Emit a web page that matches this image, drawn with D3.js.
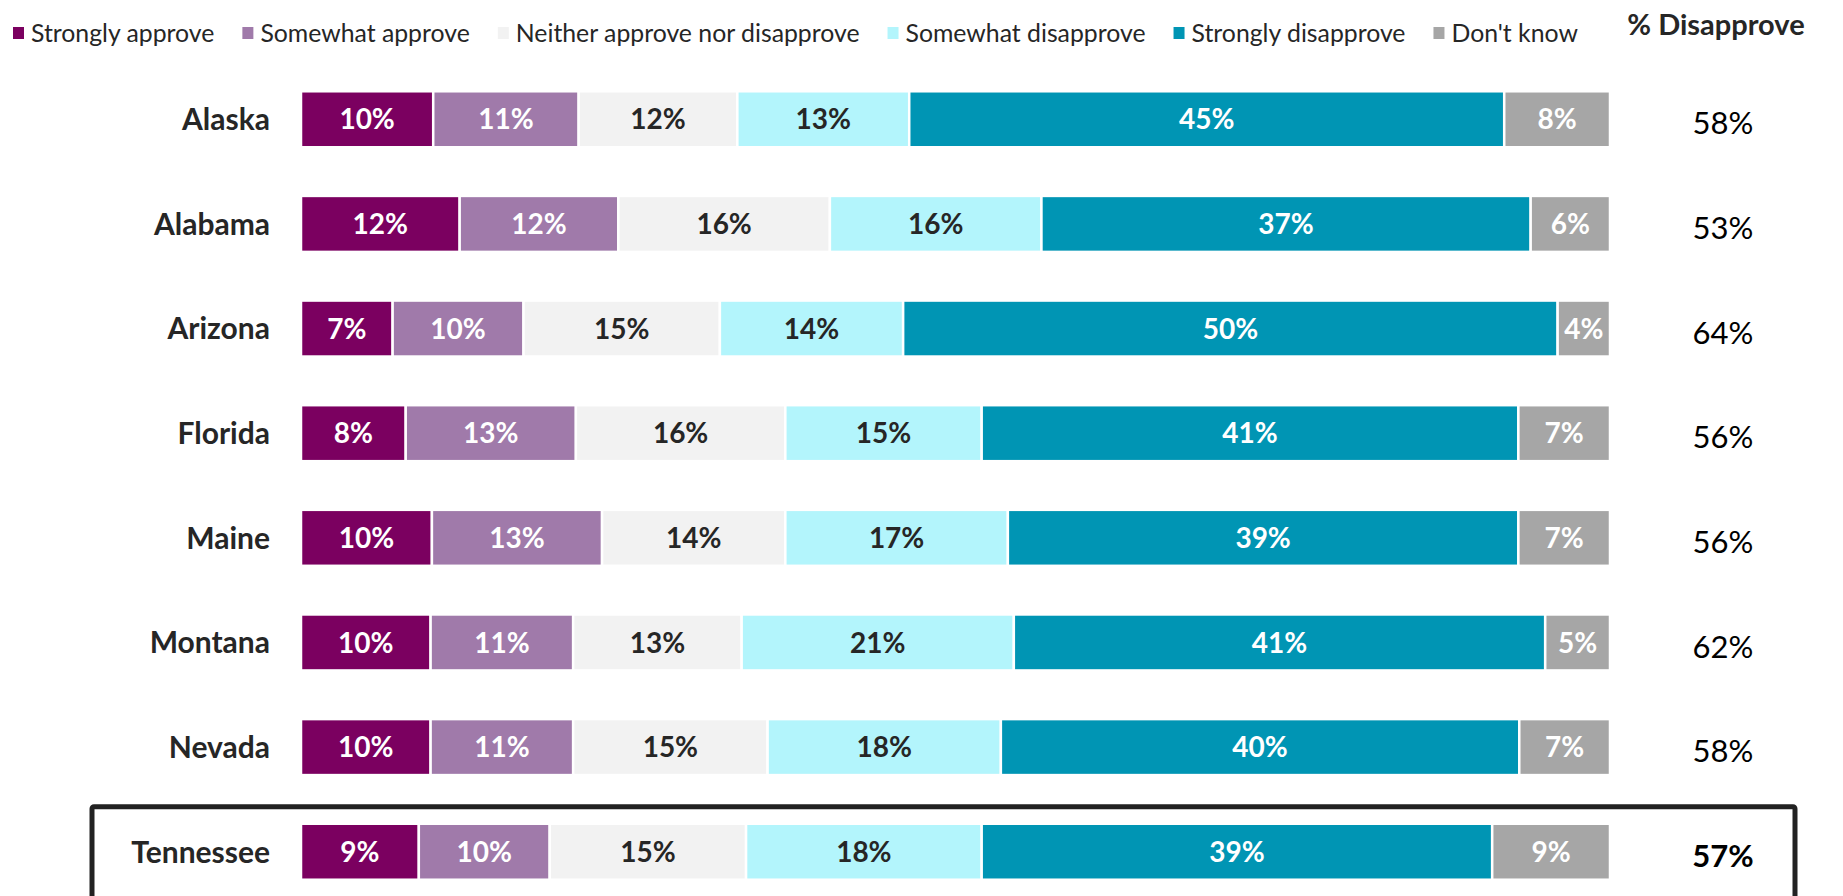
<!DOCTYPE html>
<html><head><meta charset="utf-8">
<script src="https://cdn.jsdelivr.net/npm/d3@7"></script>
<style>
html,body{margin:0;padding:0;background:#fff;}
svg{display:block;font-family:Lato, "Open Sans", sans-serif;}
</style></head><body>
<svg id="chart" width="1843" height="896"></svg>
<script>
const states = ["Alaska","Alabama","Arizona","Florida","Maine","Montana","Nevada","Tennessee"];
const categories = ["Strongly approve","Somewhat approve","Neither approve nor disapprove","Somewhat disapprove","Strongly disapprove","Don't know"];
const colors = ["#7B0060","#A07AAA","#F2F2F2","#B3F5FC","#0095B4","#A6A6A6"];
const labelColors = ["#ffffff","#ffffff","#262626","#262626","#ffffff","#ffffff"];
const stronglyApprove   = [10,12,7,8,10,10,10,9];
const somewhatApprove   = [11,12,10,13,13,11,11,10];
const neither           = [12,16,15,16,14,13,15,15];
const somewhatDisapprove= [13,16,14,15,17,21,18,18];
const stronglyDisapprove= [45,37,50,41,39,41,40,39];
const dontKnow          = [8,6,4,7,7,5,7,9];
const pctDisapprove     = [58,53,64,56,56,62,58,57];
const highlight = "Tennessee";

const series = [stronglyApprove,somewhatApprove,neither,somewhatDisapprove,stronglyDisapprove,dontKnow];
const rows = states.map((s,i)=>{
  const r = {state:s, total:0};
  categories.forEach((c,k)=>{ r[c]=series[k][i]; r.total+=series[k][i]; });
  return r;
});
// normalise each row to 100%
const normRows = rows.map(r=>{ const o={state:r.state}; categories.forEach(c=>o[c]=r[c]/r.total); return o; });
const stack = d3.stack().keys(categories)(normRows);

const svg = d3.select("#chart");
const x = d3.scaleLinear().domain([0,1]).range([301,1610]);
const y = d3.scaleBand().domain(states).range([67,904]).paddingInner(0.465).paddingOuter(0.232);

// highlight box
const hy = y(highlight);
svg.append("rect")
  .attr("x",92).attr("y",hy-17).attr("width",1703).attr("height",y.bandwidth()+60)
  .attr("fill","none").attr("stroke","#222").attr("stroke-width",5).attr("rx",2);

// bars
const g = svg.append("g");
stack.forEach((layer,k)=>{
  const lg = g.append("g");
  lg.selectAll("rect").data(layer).join("rect")
    .attr("x",d=>x(d[0])).attr("y",(d,i)=>y(states[i]))
    .attr("width",d=>x(d[1])-x(d[0])).attr("height",y.bandwidth())
    .attr("fill",colors[k]).attr("stroke","#fff").attr("stroke-width",2.5);
  lg.selectAll("text").data(layer).join("text")
    .attr("x",d=>(x(d[0])+x(d[1]))/2).attr("y",(d,i)=>y(states[i])+y.bandwidth()/2)
    .attr("dy","0.36em").attr("text-anchor","middle")
    .attr("font-size",28).attr("font-weight",700).attr("fill",labelColors[k])
    .text((d,i)=>series[k][i]+"%");
});

// state labels
svg.append("g").selectAll("text").data(states).join("text")
  .attr("x",270).attr("y",d=>y(d)+y.bandwidth()/2).attr("dy","0.36em")
  .attr("text-anchor","end").attr("font-size",30).attr("font-weight",700).attr("fill","#262626")
  .text(d=>d);

// % disapprove column
svg.append("text").attr("x",1716).attr("y",35).attr("text-anchor","middle")
  .attr("font-size",29).attr("font-weight",700).attr("fill","#262626").text("% Disapprove");
svg.append("g").selectAll("text").data(states).join("text")
  .attr("x",1723).attr("y",d=>y(d)+y.bandwidth()/2+4).attr("dy","0.36em")
  .attr("text-anchor","middle").attr("font-size",31)
  .attr("font-weight",d=>d===highlight?700:400).attr("fill","#000")
  .text((d,i)=>pctDisapprove[i]+"%");

// legend
const leg = svg.append("g");
let lx = 13;
categories.forEach((c,k)=>{
  const item = leg.append("g").attr("transform",`translate(${lx},0)`);
  item.append("rect").attr("x",0).attr("y",27).attr("width",11).attr("height",12).attr("fill",colors[k]);
  const t = item.append("text").attr("x",18).attr("y",33).attr("dy","0.36em")
    .attr("font-size",24.8).attr("fill","#262626").text(c);
  lx += 18 + t.node().getComputedTextLength() + 28;
});
</script>
</body></html>
